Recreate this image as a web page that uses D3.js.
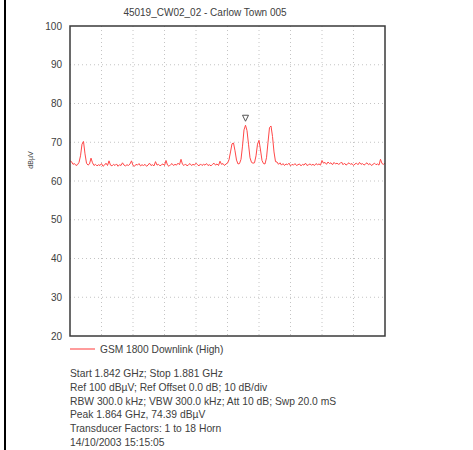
<!DOCTYPE html>
<html>
<head>
<meta charset="utf-8">
<script src="https://cdn.jsdelivr.net/npm/d3@7"></script>
<style>
  html, body { margin: 0; padding: 0; background: #fff; }
  svg { display: block; }
  text { font-family: "Liberation Sans", Arial, sans-serif; fill: #404040; }
</style>
</head>
<body>
<svg id="chart" width="473" height="450"></svg>
<script>
const title = "45019_CW02_02 - Carlow Town 005";
const yLabel = "dBµV";
const seriesName = "GSM 1800 Downlink (High)";
const startGHz = 1.842;
const stopGHz = 1.881;
const yTicks = [20, 30, 40, 50, 60, 70, 80, 90, 100];
const xDivisions = [0, 1, 2, 3, 4, 5, 6, 7, 8, 9, 10];
const infoLines = [
  "Start 1.842 GHz; Stop 1.881 GHz",
  "Ref 100 dBµV; Ref Offset 0.0 dB; 10 dB/div",
  "RBW 300.0 kHz; VBW 300.0 kHz; Att 10 dB; Swp 20.0 mS",
  "Peak 1.864 GHz, 74.39 dBµV",
  "Transducer Factors: 1 to 18 Horn",
  "14/10/2003 15:15:05"
];
// trace level (dBµV), sweep points from start to stop
const levels = [
  65.2, 65.0, 64.3, 64.5, 64.0, 64.2, 64.8, 66.5, 69.5, 70.2,
  67.0, 64.6, 64.1, 64.4, 65.9, 64.7, 64.0, 64.3, 63.9, 64.2,
  64.0, 64.5, 63.8, 64.1, 64.6, 64.0, 65.2, 64.1, 63.9, 64.3,
  64.0, 64.4, 63.8, 64.2, 64.0, 64.7, 64.1, 63.9, 64.2, 64.0,
  64.4, 65.2, 64.0, 63.8, 64.3, 64.1, 64.5, 63.9, 64.2, 64.0,
  64.3, 63.8, 64.1, 64.6, 64.0, 64.2, 63.9, 65.0, 64.1, 64.3,
  63.9, 64.2, 64.4, 64.0, 65.3, 64.1, 63.8, 64.2, 64.5, 64.0,
  64.3, 64.1, 64.6, 64.2, 65.6, 64.3, 64.0, 64.4, 63.9, 64.2,
  64.5, 64.0, 64.3, 64.1, 64.6, 64.2, 63.9, 64.4, 64.0, 64.3,
  64.1, 64.5, 64.0, 64.2, 63.9, 64.3, 64.6, 64.1, 64.4, 64.0,
  65.1, 64.3, 64.5, 64.0, 64.4,
  64.6, 65.5, 67.5, 69.6, 69.8, 67.8, 65.4, 64.4,
  64.5, 65.6, 69.0, 73.2, 74.39, 73.0, 69.5, 66.0, 64.8, 64.6,
  64.7, 66.5, 69.5, 70.5, 68.0, 65.3, 64.5,
  64.4, 66.0, 70.0, 73.8, 74.2, 71.5, 67.5, 65.0, 64.9,
  64.3, 64.7, 64.1, 64.5, 64.0, 64.4, 64.2, 64.6, 63.9, 64.3, 64.1,
  64.5, 64.0, 64.2, 64.4, 63.9, 64.3, 64.1, 64.6, 64.0, 64.2,
  64.4, 64.1, 64.3, 64.0, 64.5, 64.2, 64.4, 64.1, 65.3, 64.6,
  64.8, 64.3, 64.9, 64.5, 64.7, 64.2, 64.8, 64.4, 64.6, 64.3,
  64.5, 64.9, 64.2, 64.6, 64.1, 64.4, 64.7, 64.3, 64.5, 64.0,
  64.4, 64.6, 64.2, 64.8, 64.3, 64.5, 64.1, 64.4, 64.7, 64.2,
  64.5, 64.0, 64.3, 64.6, 64.2, 64.4, 64.1, 65.6, 64.5, 64.3, 64.6
];

const svg = d3.select("#chart");
const L = 70, R = 385, T = 26, B = 336;

const x = d3.scaleLinear().domain([startGHz, stopGHz]).range([L, R]);
const xi = d3.scaleLinear().domain([0, levels.length - 1]).range([startGHz, stopGHz]);
const y = d3.scaleLinear().domain([20, 100]).range([B, T]);
const xd = d3.scaleLinear().domain([0, 10]).range([startGHz, stopGHz]);

// page border at left
svg.append("rect").attr("x", 4).attr("y", 0).attr("width", 2).attr("height", 450).attr("fill", "#000");

// title
svg.append("text").attr("x", 205).attr("y", 16).attr("text-anchor", "middle")
  .attr("font-size", 10).text(title);

// grid
const grid = svg.append("g").attr("stroke", "#c4c4c4").attr("stroke-width", 1)
  .attr("stroke-dasharray", "1,3");
grid.selectAll("line.h").data(yTicks.slice(1, -1)).join("line")
  .attr("x1", L).attr("x2", R).attr("y1", d => y(d)).attr("y2", d => y(d));
grid.selectAll("line.v").data(xDivisions.slice(1, -1)).join("line")
  .attr("x1", d => x(xd(d))).attr("x2", d => x(xd(d))).attr("y1", T).attr("y2", B);

// trace
const line = d3.line().x((d, i) => x(xi(i))).y(d => y(d));
svg.append("path").datum(levels).attr("d", line)
  .attr("fill", "none").attr("stroke", "#ff4848").attr("stroke-width", 1);

// peak marker
let pk = d3.maxIndex(levels);
const px = x(xi(pk)), py = y(levels[pk]) - 4;
svg.append("path")
  .attr("d", `M${px - 3},${py - 6} L${px + 3},${py - 6} L${px},${py} Z`)
  .attr("fill", "none").attr("stroke", "#555").attr("stroke-width", 1);

// frame
svg.append("rect").attr("x", L).attr("y", T).attr("width", R - L).attr("height", B - T)
  .attr("fill", "none").attr("stroke", "#3a3a3a").attr("stroke-width", 1.5);

// y axis labels
const yAxis = d3.axisLeft(y).tickValues(yTicks).tickSize(0).tickPadding(8);
const ga = svg.append("g").attr("transform", `translate(${L},0)`).call(yAxis);
ga.select(".domain").remove();
ga.selectAll("text").attr("font-size", 10).attr("fill", "#404040")
  .attr("font-family", "'Liberation Sans', Arial, sans-serif");

svg.append("text").attr("transform", "translate(33,160) rotate(-90)")
  .attr("text-anchor", "middle").attr("font-size", 7).text(yLabel);

// legend
svg.append("line").attr("x1", 70).attr("x2", 95).attr("y1", 349).attr("y2", 349)
  .attr("stroke", "#ff9c9c").attr("stroke-width", 2);
svg.append("text").attr("x", 100).attr("y", 352.5).attr("font-size", 10.2).text(seriesName);

// info
svg.selectAll("text.info").data(infoLines).join("text").attr("class", "info")
  .attr("x", 70).attr("y", (d, i) => 377 + i * 13.8).attr("font-size", 10.3).text(d => d);
</script>
</body>
</html>
